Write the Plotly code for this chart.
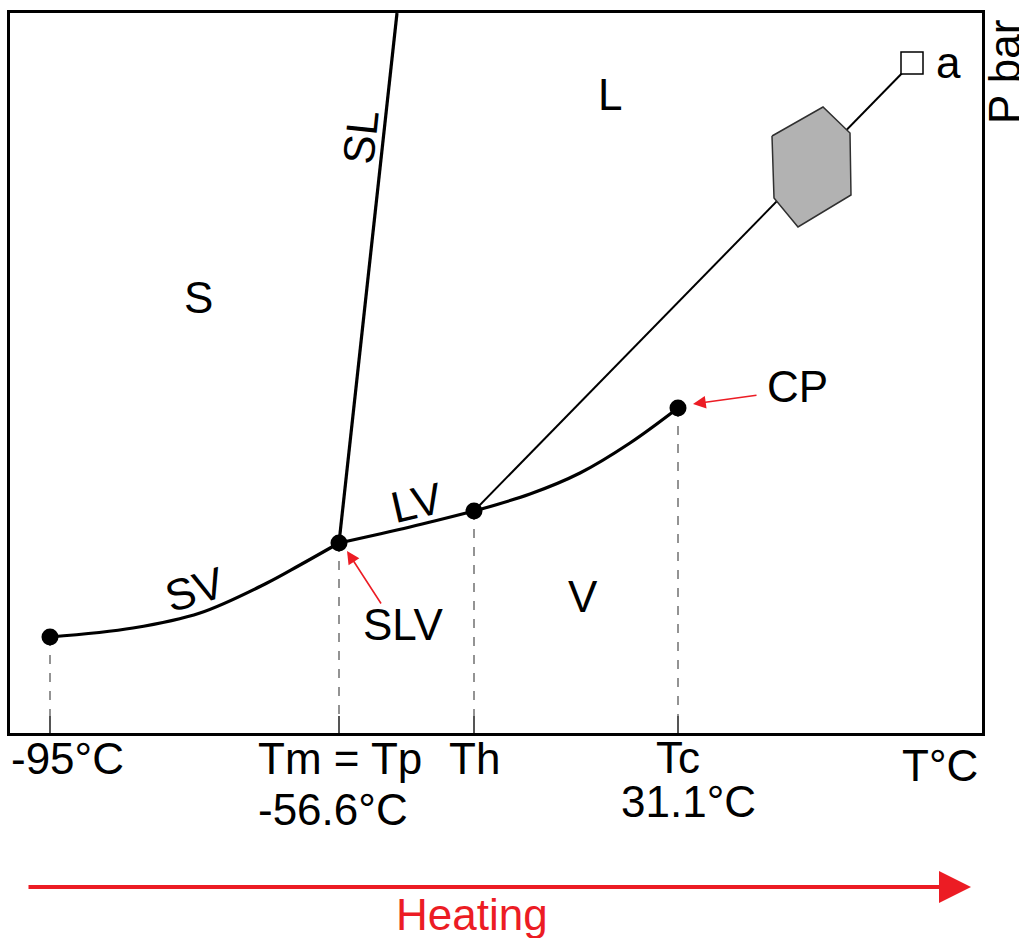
import plotly.graph_objects as go

# ---- schematic data (T in schematic units, P in schematic units) ----
sv_T = [40, 123, 190, 257, 290, 329]
sv_P = [96, 105, 120, 150, 168, 190]
lv_T = [329, 400, 464]
lv_P = [190, 206, 222]
lvc_T = [464, 520, 570, 620, 668]
lvc_P = [222, 239, 260, 290, 325]
sl_T = [329, 387]
sl_P = [190, 720]
iso_T = [464, 902]
iso_P = [222, 670]
hex_T = [762, 813, 840, 841, 788, 764, 762]
hex_P = [597, 626, 600, 538, 506, 535, 597]
pt_T = [40, 329, 464, 668]
pt_P = [96, 190, 222, 325]
sq_T = [902]
sq_P = [670]

W, H = 1019, 938
L, R, T, B = 10, 37, 13, 205
X0, X1 = 0, W - L - R
Y0, Y1 = 0, H - T - B

def px(x):
    return (x - L) / (W - L - R)

def py(y):
    return (H - B - y) / (H - T - B)

FONT = "Liberation Sans, Arial, sans-serif"
RED = "#ec1c24"
FS = 44

fig = go.Figure()

# dashed drop lines
for t, p in zip(pt_T, pt_P):
    fig.add_trace(go.Scatter(x=[t, t], y=[p, 0], mode="lines",
                             line=dict(color="#707070", width=1.5, dash="dash"),
                             hoverinfo="skip", showlegend=False))

for xs, ys in [(sv_T, sv_P), (lv_T, lv_P), (lvc_T, lvc_P), (sl_T, sl_P)]:
    fig.add_trace(go.Scatter(x=xs, y=ys, mode="lines", line=dict(color="black", width=3.2, shape="spline"),
                             hoverinfo="skip", showlegend=False))

fig.add_trace(go.Scatter(x=iso_T, y=iso_P, mode="lines", line=dict(color="black", width=2),
                         hoverinfo="skip", showlegend=False))
fig.add_trace(go.Scatter(x=hex_T, y=hex_P, mode="lines", fill="toself", fillcolor="#b2b2b2",
                         line=dict(color="#303030", width=1.5), hoverinfo="skip", showlegend=False))
fig.add_trace(go.Scatter(x=sq_T, y=sq_P, mode="markers",
                         marker=dict(symbol="square", size=22, color="white",
                                     line=dict(color="black", width=1.5)),
                         hoverinfo="skip", showlegend=False))
fig.add_trace(go.Scatter(x=pt_T, y=pt_P, mode="markers",
                         marker=dict(size=17, color="black"),
                         hoverinfo="skip", showlegend=False))

ann = []
def lab(text, x, y, ref="x", angle=0, color="black", size=FS):
    if ref == "x":
        ann.append(dict(text=text, x=x - L, y=H - B - y, xref="x", yref="y", showarrow=False,
                        textangle=angle, font=dict(family=FONT, size=size, color=color),
                        xanchor="center", yanchor="middle"))
    else:
        ann.append(dict(text=text, x=px(x), y=py(y), xref="paper", yref="paper", showarrow=False,
                        textangle=angle, font=dict(family=FONT, size=size, color=color),
                        xanchor="center", yanchor="middle"))

lab("S", 198, 297)
lab("L", 610, 94)
lab("V", 583, 596)
lab("SL", 360, 137, angle=-84)
lab("SV", 194, 589, angle=-17)
lab("LV", 416, 502, angle=-13)
lab("SLV", 403, 624)
lab("CP", 797, 386)
lab("a", 948, 62)
lab("P bar", 1004, 72, ref="paper", angle=-90)
lab("-95°C", 67, 758, ref="paper")
lab("Tm = Tp", 340, 758, ref="paper")
lab("-56.6°C", 333, 809, ref="paper")
lab("Th", 474, 758, ref="paper")
lab("Tc", 678, 757, ref="paper")
lab("31.1°C", 688, 801, ref="paper")
lab("T°C", 940, 765, ref="paper")
lab("Heating", 472, 914, ref="paper", color=RED)

# red arrows
ann.append(dict(x=693 - L, y=H - B - 404, ax=758 - L, ay=H - B - 395, xref="x", yref="y",
                axref="x", ayref="y", text="", showarrow=True, arrowhead=2, arrowsize=1.6,
                arrowwidth=1.6, arrowcolor=RED))
ann.append(dict(x=347 - L, y=H - B - 551, ax=382 - L, ay=H - B - 605, xref="x", yref="y",
                axref="x", ayref="y", text="", showarrow=True, arrowhead=2, arrowsize=1.6,
                arrowwidth=1.6, arrowcolor=RED))
ann.append(dict(x=px(971), y=py(887), ax=27 - 971, ay=0, xref="paper", yref="paper",
                axref="pixel", ayref="pixel", text="", showarrow=True, arrowhead=2, arrowsize=1.6,
                arrowwidth=4, arrowcolor=RED))

fig.update_layout(
    width=W, height=H, margin=dict(l=L, r=R, t=T, b=B),
    paper_bgcolor="white", plot_bgcolor="white",
    annotations=ann, showlegend=False,
    xaxis=dict(range=[X0, X1], showgrid=False, zeroline=False, showline=True, linecolor="black",
               linewidth=3, mirror=True, tickvals=pt_T, ticks="inside", ticklen=17,
               tickcolor="#555555", tickwidth=1.5, showticklabels=False),
    yaxis=dict(range=[Y0, Y1], showgrid=False, zeroline=False, showline=True, linecolor="black",
               linewidth=3, mirror=True, showticklabels=False, ticks=""),
)

fig.write_html("out.html")
